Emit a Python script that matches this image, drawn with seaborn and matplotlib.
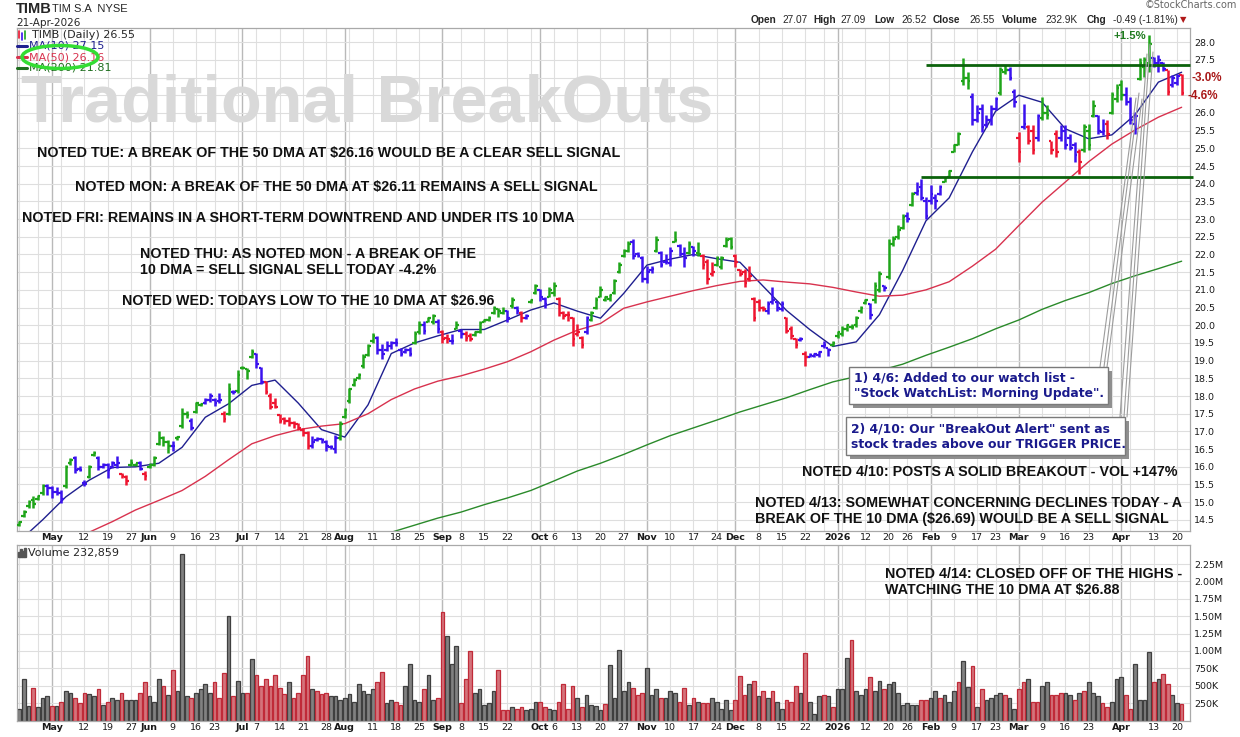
import numpy as np
import pandas as pd
import matplotlib
matplotlib.use('Agg')
import matplotlib.pyplot as plt
import seaborn as sns
from matplotlib.patches import Rectangle, Ellipse
from matplotlib.lines import Line2D

W, H = 1240, 737

# trading sessions 22-Apr-2025 .. 21-Apr-2026
holidays = ['2025-05-26', '2025-06-19', '2025-07-04', '2025-09-01', '2025-11-27',
            '2025-12-25', '2026-01-01', '2026-01-19', '2026-02-16', '2026-04-03']
dates = pd.bdate_range('2025-04-22', '2026-04-21')
dates = dates[~dates.isin(pd.to_datetime(holidays))]

highs = [
    14.48, 14.79, 15.07, 15.17, 15.21, 15.50, 15.50, 15.45, 15.42, 15.35,
    16.06, 16.25, 16.30, 16.02, 15.64, 16.06, 16.46, 16.30, 16.11, 16.11,
    16.16, 16.30, 15.83, 15.78, 16.22, 16.11, 16.16, 15.87, 16.11, 16.30,
    17.01, 16.87, 16.77, 16.72, 16.87, 17.65, 17.57, 17.37, 17.84, 17.81,
    17.95, 18.09, 17.95, 18.08, 17.57, 18.36, 18.16, 18.73, 18.85, 18.80,
    19.32, 19.23, 18.82, 18.42, 18.09, 17.95, 17.50, 17.40, 17.40, 17.29,
    17.24, 17.10, 17.01, 16.87, 16.84, 16.82, 16.77, 16.63, 16.91, 17.29,
    17.67, 18.24, 18.52, 18.66, 19.18, 19.46, 19.79, 19.70, 19.46, 19.56,
    19.56, 19.63, 19.37, 19.37, 19.39, 19.84, 20.12, 20.12, 20.22, 20.31,
    20.17, 19.86, 19.75, 19.75, 20.12, 19.89, 19.84, 19.79, 19.84, 20.12,
    20.17, 20.27, 20.55, 20.50, 20.52, 20.43, 20.79, 20.55, 20.41, 20.31,
    20.74, 21.16, 21.02, 20.79, 21.07, 21.21, 20.79, 20.41, 20.41, 20.22,
    20.03, 19.70, 20.27, 20.41, 20.79, 21.12, 20.83, 20.88, 21.30, 21.78,
    22.15, 22.39, 22.44, 22.06, 21.97, 21.68, 21.68, 22.53, 22.11, 22.01,
    22.20, 22.67, 22.30, 22.20, 22.39, 22.25, 22.34, 22.01, 21.87, 21.78,
    21.97, 21.97, 22.50, 22.50, 22.01, 21.59, 21.59, 21.68, 20.79, 20.74,
    20.55, 20.69, 21.07, 20.69, 20.69, 20.22, 19.98, 19.65, 19.67, 19.27,
    19.23, 19.23, 19.27, 19.56, 19.37, 19.56, 19.84, 19.98, 20.03, 20.03,
    20.27, 20.55, 20.74, 20.64, 21.21, 21.52, 21.14, 22.44, 22.53, 22.82,
    23.15, 23.19, 23.76, 24.04, 24.14, 23.62, 23.95, 23.71, 23.95, 24.19,
    24.38, 25.13, 25.46, 27.54, 27.16, 26.55, 26.22, 26.26, 25.93, 26.22,
    26.45, 27.30, 27.35, 27.30, 26.69, 25.46, 26.26, 25.65, 25.65, 25.98,
    26.45, 26.22, 25.22, 25.51, 25.65, 25.65, 25.41, 25.18, 24.99, 25.70,
    25.70, 26.36, 25.93, 25.84, 25.79, 26.59, 26.83, 26.92, 26.73, 26.45,
    26.03, 27.54, 27.59, 28.20, 27.59, 27.63, 27.45, 27.21, 27.07, 27.11,
    27.09,
]

lows = [
    14.34, 14.57, 14.84, 14.84, 15.07, 15.21, 15.21, 15.12, 15.21, 14.98,
    15.40, 16.06, 15.83, 15.87, 15.45, 15.69, 16.30, 15.92, 15.97, 15.69,
    15.97, 15.97, 15.69, 15.48, 16.02, 16.02, 15.92, 15.64, 15.97, 16.02,
    16.63, 16.58, 16.39, 16.44, 16.77, 17.10, 17.39, 17.05, 17.53, 17.72,
    17.78, 17.84, 17.72, 17.81, 17.27, 17.46, 18.05, 18.09, 18.75, 18.47,
    19.08, 18.80, 18.33, 18.05, 17.62, 17.67, 17.24, 17.20, 17.15, 17.10,
    17.05, 16.87, 16.49, 16.53, 16.72, 16.68, 16.44, 16.49, 16.39, 16.77,
    17.39, 17.81, 18.28, 18.47, 18.80, 19.13, 19.51, 19.18, 19.04, 19.27,
    19.32, 19.42, 19.13, 19.23, 19.13, 19.46, 19.75, 19.75, 20.08, 20.03,
    19.79, 19.51, 19.51, 19.46, 19.89, 19.65, 19.56, 19.56, 19.70, 19.79,
    20.08, 20.12, 20.31, 20.22, 20.31, 20.08, 20.50, 20.31, 20.08, 20.17,
    20.64, 20.88, 20.69, 20.50, 20.79, 20.83, 20.27, 20.17, 20.12, 19.42,
    19.70, 19.37, 19.75, 20.12, 20.46, 20.79, 20.69, 20.69, 20.88, 21.49,
    21.92, 22.06, 21.87, 21.92, 21.21, 21.18, 21.49, 22.06, 21.64, 21.73,
    21.68, 22.34, 21.97, 21.64, 22.01, 21.97, 21.97, 21.59, 21.16, 21.40,
    21.68, 21.59, 22.20, 22.15, 21.64, 21.40, 21.07, 21.26, 20.12, 20.41,
    20.41, 20.31, 20.60, 20.41, 20.41, 19.79, 19.61, 19.37, 19.56, 18.85,
    19.09, 19.09, 19.09, 19.37, 19.13, 19.42, 19.65, 19.70, 19.84, 19.89,
    19.94, 20.36, 20.60, 20.17, 20.64, 20.95, 20.96, 21.31, 22.25, 22.44,
    22.72, 22.91, 23.38, 23.67, 23.53, 23.01, 23.43, 23.29, 23.67, 24.04,
    24.19, 24.89, 25.08, 26.78, 26.69, 25.65, 25.74, 25.46, 25.60, 25.65,
    26.07, 26.50, 27.11, 26.92, 26.17, 24.61, 25.55, 25.13, 24.85, 25.22,
    25.79, 25.84, 24.85, 24.75, 25.22, 24.99, 24.94, 24.61, 24.28, 24.89,
    24.94, 25.88, 25.41, 25.37, 25.27, 25.98, 26.31, 26.36, 26.22, 25.69,
    25.41, 26.92, 27.02, 27.16, 27.30, 27.16, 27.18, 26.50, 26.73, 26.78,
    26.52,
]

opens = [
    14.36, 14.60, 14.88, 15.05, 15.10, 15.25, 15.45, 15.40, 15.30, 15.25,
    15.45, 16.10, 16.25, 15.95, 15.55, 15.70, 16.32, 16.25, 16.00, 16.05,
    16.00, 16.05, 15.80, 15.70, 16.05, 16.05, 16.10, 15.80, 16.00, 16.05,
    16.65, 16.80, 16.70, 16.60, 16.80, 17.15, 17.50, 17.30, 17.55, 17.75,
    17.80, 17.90, 17.90, 17.85, 17.50, 17.50, 18.10, 18.15, 18.78, 18.75,
    19.10, 19.20, 18.80, 18.40, 18.00, 17.80, 17.45, 17.35, 17.30, 17.25,
    17.20, 17.05, 16.95, 16.60, 16.75, 16.78, 16.70, 16.55, 16.50, 16.80,
    17.40, 17.85, 18.30, 18.50, 18.85, 19.15, 19.55, 19.65, 19.30, 19.30,
    19.40, 19.50, 19.30, 19.25, 19.30, 19.50, 19.80, 20.00, 20.10, 20.10,
    20.10, 19.80, 19.65, 19.55, 19.90, 19.85, 19.75, 19.70, 19.72, 19.82,
    20.10, 20.15, 20.35, 20.45, 20.35, 20.40, 20.55, 20.50, 20.35, 20.20,
    20.65, 20.90, 21.00, 20.75, 20.80, 20.90, 20.75, 20.35, 20.30, 20.20,
    19.75, 19.65, 19.80, 20.15, 20.50, 20.80, 20.72, 20.75, 20.90, 21.50,
    21.95, 22.10, 22.35, 22.00, 21.90, 21.30, 21.55, 22.10, 22.05, 21.80,
    21.75, 22.35, 22.25, 22.00, 22.05, 22.20, 22.05, 21.95, 21.80, 21.45,
    21.70, 21.65, 22.25, 22.45, 21.95, 21.55, 21.50, 21.30, 20.75, 20.65,
    20.50, 20.40, 20.65, 20.65, 20.45, 20.20, 19.90, 19.60, 19.58, 19.20,
    19.10, 19.12, 19.15, 19.40, 19.35, 19.45, 19.70, 19.75, 19.90, 19.95,
    20.00, 20.40, 20.62, 20.60, 20.70, 21.00, 21.10, 21.35, 22.30, 22.50,
    22.75, 23.10, 23.40, 23.75, 23.90, 23.50, 23.50, 23.60, 23.70, 24.05,
    24.20, 24.90, 25.10, 26.90, 27.00, 26.45, 25.80, 26.10, 25.65, 25.80,
    26.10, 26.55, 27.15, 27.20, 26.60, 25.30, 25.60, 25.60, 25.50, 25.30,
    25.85, 26.00, 25.20, 25.40, 25.30, 25.50, 25.30, 25.10, 24.90, 24.95,
    25.50, 25.90, 25.90, 25.45, 25.70, 26.00, 26.40, 26.80, 26.50, 26.30,
    25.70, 26.95, 27.30, 27.40, 27.55, 27.40, 27.40, 27.20, 26.80, 26.85,
    27.07,
]

closes = [
    14.45, 14.72, 15.00, 14.95, 15.18, 15.45, 15.40, 15.30, 15.25, 15.08,
    16.00, 16.20, 15.90, 15.90, 15.50, 16.00, 16.40, 16.00, 16.05, 15.90,
    16.10, 16.10, 15.75, 15.60, 16.10, 16.10, 15.95, 15.75, 16.05, 16.25,
    16.80, 16.70, 16.60, 16.60, 16.85, 17.50, 17.45, 17.10, 17.80, 17.78,
    17.90, 18.00, 17.80, 17.90, 17.35, 18.20, 18.10, 18.60, 18.80, 18.70,
    19.25, 18.90, 18.40, 18.10, 17.70, 17.70, 17.30, 17.30, 17.25, 17.20,
    17.10, 16.95, 16.60, 16.70, 16.78, 16.75, 16.60, 16.55, 16.80, 17.20,
    17.60, 18.20, 18.45, 18.60, 19.10, 19.40, 19.70, 19.30, 19.20, 19.40,
    19.50, 19.50, 19.20, 19.30, 19.20, 19.75, 20.00, 19.85, 20.20, 20.25,
    19.90, 19.60, 19.60, 19.55, 20.00, 19.75, 19.65, 19.60, 19.80, 20.05,
    20.15, 20.20, 20.50, 20.40, 20.40, 20.20, 20.70, 20.40, 20.20, 20.25,
    20.70, 21.10, 20.80, 20.60, 21.00, 21.10, 20.35, 20.25, 20.30, 19.60,
    19.80, 19.45, 20.20, 20.35, 20.70, 21.00, 20.80, 20.85, 21.25, 21.70,
    22.10, 22.30, 21.95, 21.95, 21.30, 21.50, 21.60, 22.40, 21.70, 21.80,
    22.10, 22.40, 22.00, 21.90, 22.30, 22.10, 22.00, 21.70, 21.30, 21.50,
    21.90, 21.90, 22.40, 22.20, 21.80, 21.45, 21.20, 21.40, 20.20, 20.50,
    20.45, 20.60, 20.70, 20.50, 20.60, 19.85, 19.70, 19.45, 19.60, 19.10,
    19.15, 19.20, 19.25, 19.45, 19.30, 19.50, 19.80, 19.90, 20.00, 19.95,
    20.20, 20.50, 20.70, 20.30, 21.10, 21.45, 21.05, 22.30, 22.45, 22.70,
    23.05, 23.00, 23.70, 23.80, 23.60, 23.10, 23.70, 23.50, 23.90, 24.15,
    24.35, 25.10, 25.40, 27.00, 26.90, 25.80, 26.00, 25.60, 25.80, 26.10,
    26.40, 27.20, 27.20, 27.00, 26.30, 24.90, 25.70, 25.20, 24.95, 25.90,
    26.00, 25.95, 24.95, 24.90, 25.50, 25.10, 25.00, 24.80, 24.60, 25.60,
    25.10, 26.20, 25.50, 25.50, 25.40, 26.50, 26.70, 26.50, 26.30, 25.80,
    25.90, 27.40, 27.50, 27.95, 27.40, 27.50, 27.25, 26.60, 27.00, 27.05,
    26.55,
]

# bar colouring as drawn on the chart: g = green, b = blue, r = red
bar_colors = ("ggggggbbbb" "ggbbbggbbb" "bbrrggbrgg" "gggbgggbgg" "bbbbrgbggg"
              "gbbrrrrrrr" "rrrbbbbbbg" "gggggggbbb" "bbbbbggbgg" "brrbgbrrgg"
              "gggggbgbrb" "ggbbggrrrr" "rrbggggggg" "ggbbbbbgbb" "bgbbgbgrrr"
              "ggggrrrrrr" "rbbbbrrrbr" "bbbbbggggg" "gggbggbggg" "gbgbbbbbbg"
              "gggggbbbbb" "bggbbrbrrb" "ggrrbbbbrg" "ggbbrgggbb" "bgggbbbrbb"
              "r")

# volume in thousands
volumes_k = [
    170, 600, 210, 470, 190, 330, 350, 210, 210, 260,
    420, 390, 330, 250, 400, 380, 350, 450, 230, 260,
    330, 300, 390, 290, 300, 300, 390, 550, 350, 270,
    590, 500, 360, 730, 420, 2400, 350, 320, 400, 450,
    530, 400, 550, 330, 690, 1500, 350, 570, 400, 400,
    890, 650, 490, 600, 500, 660, 470, 380, 560, 330,
    390, 650, 930, 450, 420, 380, 400, 350, 350, 300,
    330, 380, 260, 530, 420, 380, 450, 550, 700, 250,
    290, 270, 230, 490, 820, 300, 260, 450, 660, 300,
    330, 1560, 1220, 820, 1070, 250, 590, 1000, 400, 450,
    220, 250, 430, 720, 150, 150, 190, 170, 200, 150,
    170, 270, 270, 190, 170, 150, 270, 530, 160, 490,
    320, 200, 360, 220, 210, 150, 240, 800, 330, 1020,
    430, 550, 470, 360, 390, 760, 360, 450, 330, 330,
    430, 400, 260, 470, 220, 320, 270, 250, 250, 320,
    260, 170, 300, 150, 300, 640, 370, 520, 570, 350,
    420, 320, 430, 270, 170, 290, 260, 490, 390, 970,
    260, 100, 350, 370, 350, 190, 460, 450, 900, 1160,
    430, 370, 460, 630, 420, 570, 460, 530, 560, 390,
    230, 250, 220, 220, 300, 290, 330, 420, 330, 370,
    260, 420, 560, 860, 480, 790, 190, 460, 300, 320,
    370, 390, 360, 330, 170, 450, 550, 600, 270, 270,
    500, 550, 360, 370, 390, 400, 360, 300, 400, 420,
    560, 390, 350, 250, 190, 270, 600, 630, 360, 170,
    820, 300, 290, 990, 550, 600, 670, 520, 360, 250,
    233,
]
# u = up day (grey volume bar), d = down day (red volume bar)
vol_dirs = ("uuuduuudud" "uuddduudud" "uuduuudduu" "ududuuuduu" "uuddduduud"
            "udddddddud" "ddduddduuu" "uuuuuuuddu" "udduuuuduu" "dduuuddduu"
            "uuuddduddu" "uudduudddd" "uduuuuduuu" "uuddduuudu" "uuddududdu"
            "uuuudddudu" "duduudddud" "uuududuuud" "uuuduuduuu" "uuuudduudu"
            "uuduududuu" "uuduuddudd" "uuddduudud" "uuudduuudd" "uuuududduu"
            "d")

# moving averages read every 5 sessions
ma10 = [13.90, 14.50, 15.15, 15.62, 15.98, 16.00, 16.10, 16.55, 17.40, 17.78,
        18.30, 18.45, 17.80, 17.05, 16.84, 17.75, 19.20, 19.50, 19.70, 19.88,
        19.88, 20.15, 20.43, 20.63, 20.40, 20.20, 20.90, 21.70, 21.87, 22.00,
        21.88, 21.78, 21.10, 20.42, 19.88, 19.40, 19.53, 20.30, 21.55, 22.95,
        23.60, 24.90, 26.05, 26.50, 26.30, 25.55, 25.27, 25.38, 25.95, 26.87,
        27.15]
ma50_first = 15
ma50 = [14.15, 14.45, 14.78, 15.05, 15.33, 15.73, 16.20, 16.65, 16.88, 17.05,
        17.15, 17.22, 17.50, 17.90, 18.20, 18.42, 18.57, 18.76, 18.97, 19.25,
        19.58, 19.86, 20.05, 20.48, 20.66, 20.82, 20.98, 21.12, 21.24, 21.28,
        21.22, 21.17, 21.07, 20.94, 20.82, 20.85, 21.00, 21.23, 21.67, 22.15,
        22.82, 23.48, 24.05, 24.62, 25.12, 25.52, 25.88, 26.16]
ma200_first = 80
ma200 = [14.15, 14.35, 14.55, 14.72, 14.93, 15.12, 15.33, 15.60, 15.88, 16.10,
         16.35, 16.62, 16.88, 17.10, 17.32, 17.55, 17.75, 17.95, 18.18, 18.40,
         18.55, 18.72, 18.90, 19.15, 19.38, 19.62, 19.90, 20.15, 20.45, 20.70,
         20.92, 21.18, 21.40, 21.60, 21.81]

tick_days = ['2025-05-01', '2025-05-12', '2025-05-19', '2025-05-27', '2025-06-02',
             '2025-06-09', '2025-06-16', '2025-06-23', '2025-07-01', '2025-07-07',
             '2025-07-14', '2025-07-21', '2025-07-28', '2025-08-01', '2025-08-11',
             '2025-08-18', '2025-08-25', '2025-09-02', '2025-09-08', '2025-09-15',
             '2025-09-22', '2025-10-01', '2025-10-06', '2025-10-13', '2025-10-20',
             '2025-10-27', '2025-11-03', '2025-11-10', '2025-11-17', '2025-11-24',
             '2025-12-01', '2025-12-08', '2025-12-15', '2025-12-22', '2026-01-02',
             '2026-01-12', '2026-01-20', '2026-01-26', '2026-02-02', '2026-02-09',
             '2026-02-17', '2026-02-23', '2026-03-02', '2026-03-09', '2026-03-16',
             '2026-03-23', '2026-04-01', '2026-04-13', '2026-04-20']
tick_labels = ['May', '12', '19', '27', 'Jun', '9', '16', '23', 'Jul', '7',
               '14', '21', '28', 'Aug', '11', '18', '25', 'Sep', '8', '15',
               '22', 'Oct', '6', '13', '20', '27', 'Nov', '10', '17', '24',
               'Dec', '8', '15', '22', '2026', '12', '20', '26', 'Feb', '9',
               '17', '23', 'Mar', '9', '16', '23', 'Apr', '13', '20']

resistance, resistance_from = 27.35, '2026-01-30'
support, support_from = 24.18, '2026-01-29'

sns.set_style('white')
plt.rcParams['font.family'] = ['DejaVu Sans']

df = pd.DataFrame({'date': dates, 'high': highs, 'low': lows, 'open': opens,
                   'close': closes, 'col': list(bar_colors),
                   'vol': [v * 1000 for v in volumes_k], 'dir': list(vol_dirs)})
df['x'] = np.arange(len(df))
xpos = {d: x for d, x in zip(df['date'], df['x'])}

fig = plt.figure(figsize=(W / 100, H / 100), dpi=100)
ax = fig.add_axes([17 / W, 1 - 530.5 / H, 1173 / W, 502.5 / H])
axv = fig.add_axes([17 / W, 1 - 720.5 / H, 1173 / W, 175.5 / H])
xlim = (-0.5, 251.8)


def px(x, y):
    return x / W, 1 - y / H


# grids: weekly light lines, monthly darker lines
week_first = df.groupby(df['date'].dt.to_period('W'))['x'].min()
month_first = df.groupby(df['date'].dt.to_period('M'))['x'].min().iloc[1:]
for a in (ax, axv):
    for xv in week_first:
        a.axvline(xv, color='#e0e0e0', lw=0.8, zorder=0)
    for xv in month_first:
        a.axvline(xv, color='#b9b9b9', lw=1.0, zorder=0)
    a.set_axisbelow(True)
    for s in a.spines.values():
        s.set_color('#a9a9a9')
        s.set_linewidth(0.9)

# watermark
ax.text(*px(21, 104), 'Traditional BreakOuts', transform=fig.transFigure,
        family='Liberation Sans', fontweight='bold', fontsize=48,
        color='#d9d9d9', va='center', ha='left', zorder=0.7)

# moving averages
sns.lineplot(x=df['x'].iloc[::5].to_numpy(), y=ma10, ax=ax, color='#1f1f8f',
             linewidth=1.0, zorder=2)
sns.lineplot(x=df['x'].iloc[ma50_first::5].to_numpy(), y=ma50, ax=ax,
             color='#d8324e', linewidth=1.0, zorder=2)
sns.lineplot(x=df['x'].iloc[ma200_first::5].to_numpy(), y=ma200, ax=ax,
             color='#2a8a2a', linewidth=1.0, zorder=2)

# OHLC bars
cmap = {'g': '#1fa51a', 'b': '#3a12ee', 'r': '#ee1530'}
cols = [cmap[c] for c in df['col']]
ax.vlines(df['x'], df['low'], df['high'], colors=cols, lw=1.8, zorder=3)
ax.hlines(df['open'], df['x'] - 0.55, df['x'], colors=cols, lw=1.6, zorder=3)
ax.hlines(df['close'], df['x'], df['x'] + 0.55, colors=cols, lw=1.6, zorder=3)

# breakout levels
ax.hlines(resistance, xpos[pd.Timestamp(resistance_from)], xlim[1],
          color='#0b620b', lw=2.0, zorder=4, clip_on=False)
ax.hlines(support, xpos[pd.Timestamp(support_from)], xlim[1] + 0.6,
          color='#0b620b', lw=2.0, zorder=4, clip_on=False)

ax.set_xlim(*xlim)
ax.set_ylim(14.20, 28.40)
yt = np.arange(14.5, 28.01, 0.5)
ax.set_yticks(yt)
# 27.0 and 26.5 are covered by the percentage tags on the chart
ax.set_yticklabels(['' if round(v, 1) in (27.0, 26.5) else f'{v:.1f}' for v in yt])
ax.yaxis.tick_right()
ax.grid(axis='y', color='#dedede', lw=0.8)
ax.set_xlabel('')
ax.set_ylabel('')

# volume
up = df[df['dir'] == 'u']
dn = df[df['dir'] == 'd']
sns.barplot(data=up, x='x', y='vol', native_scale=True, color='#818181',
            edgecolor='#3f3f3f', linewidth=0.9, saturation=1, width=0.8,
            errorbar=None, ax=axv, zorder=2)
sns.barplot(data=dn, x='x', y='vol', native_scale=True, color='#d4737b',
            edgecolor='#c02a38', linewidth=0.9, saturation=1, width=0.8,
            errorbar=None, ax=axv, zorder=2)
axv.set_xlim(*xlim)
axv.set_ylim(0, 2.525e6)
vt = np.arange(250e3, 2.26e6, 250e3)
axv.set_yticks(vt)
axv.set_yticklabels([f'{v / 1e3:.0f}K' if v < 1e6 else f'{v / 1e6:.2f}M' for v in vt])
axv.yaxis.tick_right()
axv.grid(axis='y', color='#dedede', lw=0.8)
axv.set_xlabel('')
axv.set_ylabel('')

tick_x = [xpos[pd.Timestamp(d)] for d in tick_days]
for a in (ax, axv):
    a.set_xticks(tick_x)
    a.set_xticklabels(tick_labels)
    a.tick_params(axis='both', length=0, labelsize=6.8, colors='#1a1a1a', pad=1.5)
    a.tick_params(axis='y', pad=3)
    for t, lab in zip(a.get_xticklabels(), tick_labels):
        if not lab.isdigit() or len(lab) == 4:
            t.set_fontweight('bold')

# header
fig.text(*px(16, 9), 'TIMB', fontsize=10.5, fontweight='bold', va='center',
         family='Liberation Sans')
fig.text(*px(52, 9), 'TIM S.A  NYSE', fontsize=8, va='center', family='Liberation Sans')
fig.text(*px(16, 23), '21-Apr-2026', fontsize=7.5, va='center')
fig.text(*px(1237, 5), '\u00a9StockCharts.com', fontsize=7, va='center', ha='right',
         color='#666666')
head = [(751, 'Open', True), (782, '27.07', False), (813, 'High', True),
        (840, '27.09', False), (874, 'Low', True), (901, '26.52', False),
        (933, 'Close', True), (969, '26.55', False), (1002, 'Volume', True),
        (1045, '232.9K', False), (1087, 'Chg', True), (1113, '-0.49 (-1.81%)', False)]
for hx, ht, hb in head:
    fig.text(*px(hx, 20), ht, fontsize=7.3, va='center', family='Liberation Sans',
             fontweight='bold' if hb else 'normal')
fig.text(*px(1180, 20), '\u25bc', fontsize=6, va='center', color='#b01818')

# price legend
for lx, ly0, ly1, c in [(19, 31, 38, '#ee1530'), (22, 33, 40, '#3a12ee'), (25, 31, 39, '#1fa51a')]:
    fig.add_artist(Line2D([lx / W, lx / W], [1 - ly0 / H, 1 - ly1 / H], color=c, lw=1.2))
fig.text(*px(32, 35), 'TIMB (Daily) 26.55', fontsize=8, va='center')
for ly, lab, c in [(46, 'MA(10) 27.15', '#1f1f8f'), (57, 'MA(50) 26.16', '#d8324e'),
                   (68, 'MA(200) 21.81', '#1e6e1e')]:
    fig.add_artist(Line2D([17 / W, 27 / W], [1 - ly / H, 1 - ly / H], color=c, lw=2.2))
    fig.text(*px(29, ly), lab, fontsize=8, va='center', color=c)
fig.add_artist(Ellipse(px(60, 57), 76 / W, 23 / H, transform=fig.transFigure,
                       fill=False, ec='#33dd33', lw=2.5, zorder=6))

# volume legend
for i, hgt in enumerate([5, 8, 6, 9]):
    fig.add_artist(Rectangle(((18 + i * 2) / W, 1 - 557 / H), 1.5 / W, hgt / H,
                             transform=fig.transFigure, color='#555555'))
fig.text(*px(28, 553), 'Volume 232,859', fontsize=8, va='center')

# commentary
notes = [(37, 153, 'NOTED TUE: A BREAK OF THE 50 DMA AT \\$26.16 WOULD BE A CLEAR SELL SIGNAL'),
         (75, 187, 'NOTED MON: A BREAK OF THE 50 DMA AT \\$26.11 REMAINS A SELL SIGNAL'),
         (22, 218, 'NOTED FRI: REMAINS IN A SHORT-TERM DOWNTREND AND UNDER ITS 10 DMA'),
         (140, 254, 'NOTED THU: AS NOTED MON - A BREAK OF THE'),
         (140, 270, '10 DMA = SELL SIGNAL SELL TODAY -4.2%'),
         (122, 301, 'NOTED WED: TODAYS LOW TO THE 10 DMA AT \\$26.96'),
         (802, 472, 'NOTED 4/10: POSTS A SOLID BREAKOUT - VOL +147%'),
         (755, 503, 'NOTED 4/13: SOMEWHAT CONCERNING DECLINES TODAY - A'),
         (755, 519, 'BREAK OF THE 10 DMA (\\$26.69) WOULD BE A SELL SIGNAL'),
         (885, 574, 'NOTED 4/14: CLOSED OFF OF THE HIGHS -'),
         (885, 590, 'WATCHING THE 10 DMA AT \\$26.88')]
for nx, ny, nt in notes:
    fig.text(*px(nx, ny), nt, fontsize=10.3, fontweight='bold', va='center',
             family='Liberation Sans', color='#111111')

# percentage tags
fig.text(*px(1113, 36), '+1.5%', fontsize=8.2, fontweight='bold', va='center',
         family='Liberation Sans', color='#1e7a1e')
fig.text(*px(1192, 78), '-3.0%', fontsize=8.4, fontweight='bold', va='center',
         family='Liberation Sans', color='#a81818')
fig.text(*px(1187, 96), '-4.6%', fontsize=8.4, fontweight='bold', va='center',
         family='Liberation Sans', color='#a81818')

# call-out lines and boxes
for (x0, y0), (x1, y1) in [((1100, 367), (1136, 98)), ((1104, 367), (1139, 93)),
                           ((1107, 367), (1142, 99)), ((1120, 417), (1147, 54)),
                           ((1124, 417), (1150, 44)), ((1127, 417), (1153, 52))]:
    fig.add_artist(Line2D([x0 / W, x1 / W], [1 - y0 / H, 1 - y1 / H],
                          color='#9c9c9c', lw=0.8, zorder=5))
boxes = [((849, 367, 1108, 404), ['1) 4/6: Added to our watch list -',
                                  '"Stock WatchList: Morning Update".'], (378, 393)),
         ((846, 417, 1125, 455), ['2) 4/10: Our "BreakOut Alert" sent as',
                                  'stock trades above our TRIGGER PRICE.'], (429, 445))]
for (bx0, by0, bx1, by1), lines, lys in boxes:
    fig.add_artist(Rectangle(((bx0 + 4) / W, 1 - (by1 + 4) / H),
                             (bx1 - bx0) / W, (by1 - by0) / H, transform=fig.transFigure,
                             facecolor='#8f8f8f', edgecolor='none', zorder=6))
    fig.add_artist(Rectangle((bx0 / W, 1 - by1 / H), (bx1 - bx0) / W, (by1 - by0) / H,
                             transform=fig.transFigure, facecolor='white',
                             edgecolor='#7a7a7a', lw=1.0, zorder=7))
    for ln, ly in zip(lines, lys):
        fig.text(*px(bx0 + 5, ly), ln, fontsize=8.9, fontweight='bold', va='center',
                 color='#1a1a8c', zorder=8)

fig.savefig('out.png', dpi=100)
